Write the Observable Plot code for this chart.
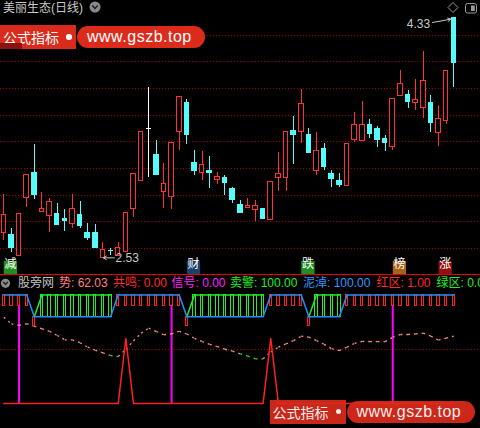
<!DOCTYPE html>
<html>
<head>
<meta charset="utf-8">
<script src="https://cdn.jsdelivr.net/npm/d3@7"></script>
<script src="https://cdn.jsdelivr.net/npm/@observablehq/plot@0.6"></script>
<style>
html,body{margin:0;padding:0;background:#000;}
#root{position:relative;width:480px;height:428px;background:#000;overflow:hidden;font-family:"Liberation Sans","Noto Sans CJK SC",sans-serif;}
#price,#ind{position:absolute;left:0;}
#price{top:0;}
#ind{top:275px;}
svg{display:block;}
.abs{position:absolute;white-space:nowrap;}
#title{left:3px;top:1px;font-size:12px;line-height:14px;color:#c8c8c8;}
#sep{left:0;top:274px;width:480px;height:1px;background:#e60000;}
.hdr{top:276px;font-size:12px;line-height:14px;}
.banner{position:absolute;width:206px;height:25px;}
.banner .tag{position:absolute;left:0;top:0;width:76px;height:24px;background:#d92b1c;color:#fff;font-size:14px;line-height:24px;padding-left:3px;box-sizing:border-box;font-family:"Noto Sans CJK SC",sans-serif;}
.banner .shade{position:absolute;left:0;top:18px;width:22px;height:6px;background:#8a1410;}
.banner .bdot{position:absolute;left:66px;top:9px;width:5.5px;height:5.5px;border-radius:50%;background:#fff;}
.banner .pill{position:absolute;left:77px;top:1px;width:128px;height:22px;border-radius:11px;background:#dd2b1b;color:#fff;font-size:16px;line-height:22px;padding-left:10px;box-sizing:border-box;letter-spacing:0.5px;font-family:"Liberation Sans",sans-serif;}
#icons{position:absolute;left:0;top:0;}
</style>
</head>
<body>
<div id="root">
  <div id="price"></div>
  <div id="ind"></div>
  <div id="sep" class="abs"></div>
  <div id="title" class="abs"></div>
  <svg id="icons" width="480" height="428">
    <circle cx="95" cy="7" r="5.5" fill="#8a8a8a"/>
    <path d="M92.3,5.6 L95,8.4 L97.7,5.6" fill="none" stroke="#1a1a1a" stroke-width="1.4"/>
    <path d="M453,2.5 L458,7.5 L453,12.5 L448,7.5 Z" fill="none" stroke="#9a9a9a" stroke-width="1"/>
    <rect x="465.5" y="3.5" width="11" height="9.5" rx="2" fill="none" stroke="#9a9a9a" stroke-width="1"/>
    <rect x="471" y="5.5" width="3.8" height="5.5" fill="#9a9a9a"/>
    <circle cx="5.5" cy="283.3" r="4.6" fill="#8a8a8a"/>
    <path d="M3.2,282 L5.5,284.4 L7.8,282" fill="none" stroke="#1a1a1a" stroke-width="1.3"/>
  </svg>
  <div id="hdr"></div>
  <div class="banner" style="left:0;top:25px;">
    <div class="tag">公式指标</div><div class="shade"></div>
    <div class="bdot"></div>
    <div class="pill">www.gszb.top</div>
  </div>
  <div class="banner" style="left:269.5px;top:399.5px;opacity:0.93;">
    <div class="tag">公式指标</div>
    <div class="bdot"></div>
    <div class="pill">www.gszb.top</div>
  </div>
</div>
<script>
// ---------- data ----------
const titleText = "美丽生态(日线)";
const openP  = [2.715,2.698,2.542,2.977,3.17,2.872,2.842,2.862,2.82,2.785,2.848,2.72,2.72,2.53,2.585,2.542,2.572,2.898,3.108,3.498,3.305,3.022,2.985,3.472,3.695,3.245,3.165,3.185,3.115,3.13,3.05,2.93,2.905,2.89,2.9,2.812,3.127,3.127,3.478,3.472,3.455,3.18,3.35,3.16,3.103,3.067,3.412,3.405,3.53,3.5,3.425,3.36,3.742,3.748,3.693,3.655,3.693,3.468,3.555,4.33];
const highP  = [3.005,2.75,2.86,3.148,3.38,3.02,2.973,2.935,2.892,3.005,2.952,2.785,2.78,2.645,2.6,2.645,2.868,3.16,3.475,3.805,3.41,3.235,3.393,3.738,3.718,3.335,3.328,3.29,3.168,3.148,3.058,2.96,2.975,2.96,2.9,3.1,3.32,3.475,3.59,3.792,3.5,3.47,3.385,3.185,3.16,3.385,3.618,3.702,3.568,3.515,3.448,3.723,3.935,3.785,3.868,4.08,3.748,3.67,3.933,4.33];
const lowP   = [2.66,2.572,2.542,2.91,2.968,2.872,2.722,2.772,2.73,2.752,2.752,2.66,2.598,2.53,2.548,2.542,2.572,2.835,3.108,3.135,3.148,2.902,2.892,3.335,3.38,3.148,3.11,3.052,3.08,2.998,2.94,2.865,2.905,2.805,2.818,2.812,3.03,3.028,3.23,3.385,3.32,3.148,3.185,3.06,3.06,3.067,3.395,3.405,3.427,3.36,3.33,3.337,3.742,3.652,3.637,3.577,3.472,3.367,3.532,3.81];
const closeP = [2.848,2.602,2.86,3.148,2.998,2.9,2.952,2.778,2.805,2.9,2.772,2.682,2.602,2.592,2.583,2.605,2.868,3.16,3.475,3.498,3.148,3.085,3.393,3.738,3.448,3.185,3.228,3.165,3.138,3.09,2.965,2.87,2.92,2.92,2.818,3.1,3.16,3.475,3.45,3.685,3.32,3.328,3.21,3.118,3.08,3.385,3.53,3.53,3.457,3.412,3.39,3.723,3.835,3.697,3.715,3.858,3.54,3.573,3.933,3.99];
const gridPrices = [2.6,2.8,3.0,3.2,3.4,3.6,3.8,4.0,4.2];
const eventIdx   = [1,25,40,52,58];
const eventChars = ["减","财","跌","榜","涨"];

// indicator
const shi = [79.5,73.3,72,73.5,71.2,68.8,66.5,62.7,58.7,58.7,56,52,49,46.7,44.2,43.3,50,57.6,64.8,69.4,66.4,63.3,64.2,66.6,64,60,57.1,54.5,52.5,50,48.2,45.8,43.6,41.2,41.2,47.5,51.9,55,58,62,61.1,58,54.5,50.5,48.8,51.9,55.5,57.2,57.1,57.1,57,61.1,63.6,63.6,64.2,64.8,62,58.3,60.2,62.03];
const niNao = [100,100,100,100,80,80,80,80,80,80,80,80,80,80,80,100,100,100,100,100,100,100,100,100,80,80,80,80,80,80,80,80,80,80,80,100,100,100,100,100,80,80,80,80,80,100,100,100,100,100,100,100,100,100,100,100,100,100,100,100];
const maiJing = [null,null,null,null,80,100,100,100,100,100,100,100,100,100,100,null,null,null,null,null,null,null,null,null,80,100,100,100,100,100,100,100,100,100,100,null,null,null,null,null,80,100,100,100,100,null,null,null,null,null,null,null,null,null,null,null,null,null,null,null];
const xinHao = [0,0,90,0,0,0,0,0,0,0,0,0,0,0,0,0,0,0,0,0,0,0,90,0,0,0,0,0,0,0,0,0,0,0,0,0,0,0,0,0,0,0,0,0,0,0,0,0,0,0,0,90,0,0,0,0,0,0,0,0];
const gongMing = [0,0,0,0,0,0,0,0,0,0,0,0,0,0,0,0,60,0,0,0,0,0,0,0,0,0,0,0,0,0,0,0,0,0,0,60,0,0,0,0,0,0,0,0,0,0,0,0,0,0,0,0,0,0,0,0,0,0,0,0];
const legendName = "股旁网";
const legendLabels = ["势","共鸣","信号","卖警","泥淖","红区","绿区"];
const legendValues = [shi[shi.length-1].toFixed(2),"0.00","0.00","100.00","100.00","1.00","0.00"];

// ---------- styles ----------
const UP = "#ff3232", DOWN = "#54fcfc", FLAT = "#ffffff";
const eventColors = ["#1f8f1f","#1d3f6a","#1f8f1f","#a8621a","#900f0f"];
const legendColors = ["#ff8080","#ff2a2a","#ff22ff","#22ee22","#3399ff","#ff2a2a","#22ee22"];
const legendLeft = [59,113,171.5,230,303,376.5,436.5];
const FONT = "Liberation Sans, Noto Sans CJK SC, sans-serif";

document.getElementById("title").textContent = titleText;

const N = openP.length;
const idx = d3.range(N);
const candles = idx.map(i => ({i, o: openP[i], h: highP[i], l: lowP[i], c: closeP[i]}));
const col = d => d.c > d.o ? UP : d.c < d.o ? DOWN : FLAT;
const thin = d => Math.abs(d.c - d.o) < 0.008;
const events = eventIdx.map((i, k) => ({i, t: eventChars[k], bg: eventColors[k]}));

const maxI = d3.maxIndex(highP), minI = d3.minIndex(lowP);
const hi = highP[maxI], lo = lowP[minI];

const xs = {domain: [0, N - 1], range: [3.3, 453.3], axis: null};

const price = Plot.plot({
  width: 480, height: 275, margin: 0,
  style: {background: "transparent", overflow: "visible"},
  x: xs,
  y: {domain: [2.6, 4.2], range: [248, 34.67], axis: null},
  marks: [
    Plot.ruleY(gridPrices, {stroke: "#a00000", strokeDasharray: "1,2", shapeRendering: "crispEdges"}),
    Plot.ruleX(candles, {x: "i", y1: "l", y2: "h", stroke: col, shapeRendering: "crispEdges"}),
    Plot.rect(candles.filter(d => !thin(d)), {
      x1: d => d.i - 0.3, x2: d => d.i + 0.3,
      y1: d => Math.min(d.o, d.c), y2: d => Math.max(d.o, d.c),
      fill: d => d.c > d.o ? "#000000" : col(d), stroke: col, shapeRendering: "crispEdges"
    }),
    Plot.ruleY(candles.filter(thin), {y: d => (d.o + d.c) / 2, x1: d => d.i - 0.33, x2: d => d.i + 0.33, stroke: col, shapeRendering: "crispEdges"}),
    Plot.arrow([0], {x1: maxI - 2.8, y1: hi - 0.035, x2: maxI - 0.4, y2: hi - 0.01, stroke: "#c8c8c8", headLength: 5, strokeWidth: 1}),
    Plot.text([0], {x: maxI - 3.1, y: hi - 0.05, text: () => hi.toFixed(2), textAnchor: "end", fill: "#c8c8c8", fontSize: 12, fontFamily: FONT}),
    Plot.arrow([0], {x1: minI + 1.5, y1: lo, x2: minI + 0.05, y2: lo, stroke: "#c8c8c8", headLength: 5, strokeWidth: 1}),
    Plot.text([0], {x: minI + 1.65, y: lo, text: () => lo.toFixed(2), textAnchor: "start", fill: "#c8c8c8", fontSize: 12, fontFamily: FONT}),
    Plot.dot(events, {x: "i", frameAnchor: "bottom", dy: -8, dx: -1, symbol: "square", r: 7.5, fill: "bg"}),
    Plot.text(events, {x: "i", frameAnchor: "bottom", dy: -8, dx: -1, text: "t", fill: "#ffffff", fontSize: 12, fontFamily: "Noto Sans CJK SC, sans-serif"})
  ]
});
document.getElementById("price").appendChild(price);

const ind = Plot.plot({
  width: 480, height: 153, margin: 0,
  style: {background: "transparent", overflow: "visible"},
  x: xs,
  y: {domain: [0, 100], range: [128, 19.5], axis: null},
  marks: [
    Plot.ruleY([50], {stroke: "#a00000", strokeDasharray: "1,2", shapeRendering: "crispEdges"}),
    Plot.ruleX(idx.filter(i => xinHao[i] > 0), {x: i => i, y1: 0, y2: i => xinHao[i], stroke: "#ff00ff", strokeWidth: 2}),
    Plot.link(idx.slice(0, -1), {
      x1: i => i, y1: i => shi[i], x2: i => i + 1, y2: i => shi[i + 1],
      stroke: i => (shi[i] < 46 && shi[i + 1] < 46) ? "#22dd22" : "#ff8c8c",
      strokeDasharray: "2,4", strokeWidth: 1.3
    }),
    Plot.line(gongMing, {x: (d, i) => i, y: d => d, stroke: "#ff2020"}),
    Plot.rect(idx.filter(i => niNao[i] === 100), {x1: i => i - 0.15, x2: i => i + 0.15, y1: 90, y2: 100, fill: "none", stroke: "#ff2020", shapeRendering: "crispEdges"}),
    Plot.rect(idx.filter(i => maiJing[i] === 100), {x1: i => i - 0.15, x2: i => i + 0.15, y1: 80, y2: 100, fill: "none", stroke: "#22ee22", shapeRendering: "crispEdges"}),
    Plot.rect(idx.filter(i => maiJing[i] === 80), {x1: i => i - 0.15, x2: i => i + 0.15, y1: 71, y2: 80, fill: "none", stroke: "#ff2020", shapeRendering: "crispEdges"}),
    Plot.line(maiJing, {x: (d, i) => i, y: d => d, stroke: "#22ee22"}),
    Plot.line(niNao, {x: (d, i) => i, y: d => d, stroke: "#1e90ff"})
  ]
});
document.getElementById("ind").appendChild(ind);

// legend header
const hdr = document.getElementById("hdr");
const nm = document.createElement("div");
nm.className = "abs hdr"; nm.style.left = "18px"; nm.style.color = "#c0c0c0"; nm.textContent = legendName;
hdr.appendChild(nm);
legendLabels.forEach((lab, k) => {
  const s = document.createElement("div");
  s.className = "abs hdr";
  s.style.left = legendLeft[k] + "px";
  s.style.color = legendColors[k];
  s.textContent = lab + ": " + legendValues[k];
  hdr.appendChild(s);
});
</script>
</body>
</html>
